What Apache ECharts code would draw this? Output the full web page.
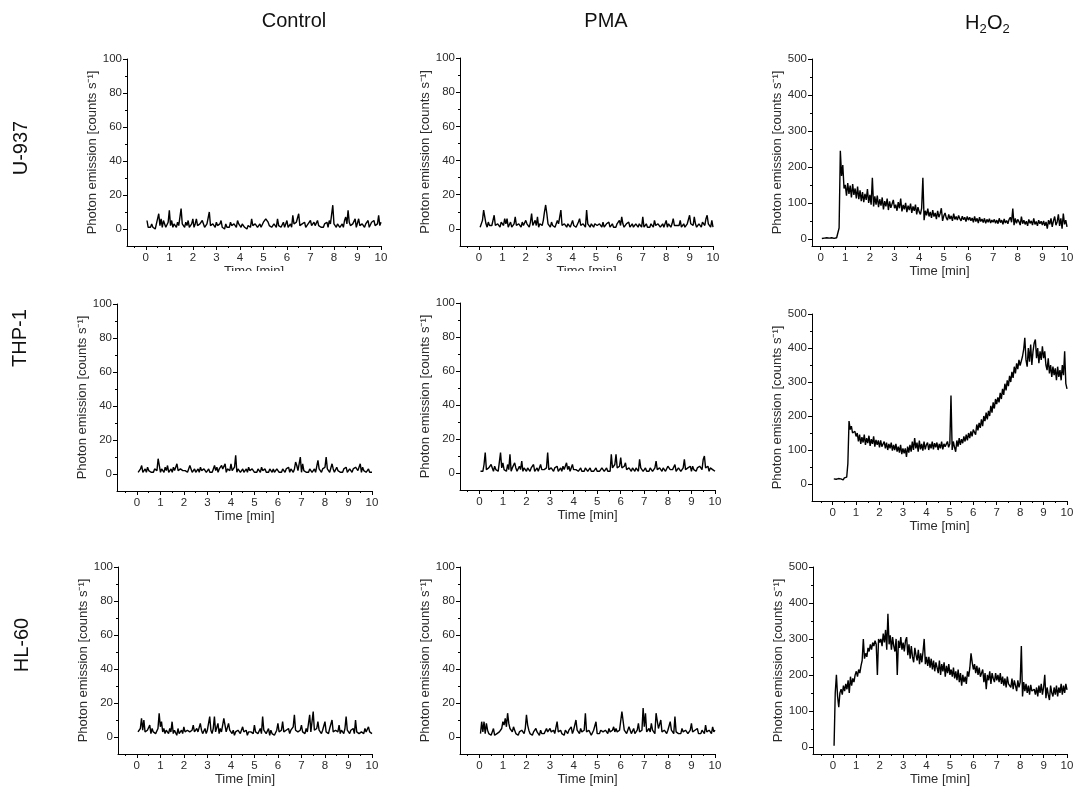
<!DOCTYPE html>
<html><head><meta charset="utf-8">
<script src="https://cdn.jsdelivr.net/npm/echarts@6/dist/echarts.min.js"></script>
<style>html,body{margin:0;padding:0;background:#fff}#c{width:1082px;height:791px}</style>
</head><body><div id="c"></div>
<script>
// ---------- labels ----------
const columnTitles = ['Control', 'PMA', 'H2O2'];
const rowLabels = ['U-937', 'THP-1', 'HL-60'];
const xAxisName = 'Time [min]';
const yAxisName = 'Photon emission [counts s\u207B\u00B9]';
const xTickValues = [0,1,2,3,4,5,6,7,8,9,10];
const xMinorValues = [-0.5,0.5,1.5,2.5,3.5,4.5,5.5,6.5,7.5,8.5,9.5];
const yTicksLow = [0,20,40,60,80,100];
const yMinorLow = [10,30,50,70,90];
const yTicksHigh = [0,100,200,300,400,500];
const yMinorHigh = [50,150,250,350,450];
// sampling: first point at 0.05 min, one point every 0.05 min
const timeStart = 0.05, timeStep = 0.05;

// ---------- data (counts per second) ----------
const u937Control = [
5,1,2,1,3,1,2,0,3,2,9,2,6,1,5,3,1,2,4,11,
2,5,1,3,2,1,4,2,1,12,3,2,1,4,2,5,1,2,3,6,
1,3,6,2,1,3,2,5,4,1,2,3,2,10,2,1,3,2,1,4,
2,1,3,5,1,2,0,3,1,2,1,4,2,1,3,2,1,5,3,2,
1,3,2,1,2,0,2,3,1,6,2,1,3,2,1,2,3,1,2,4,
3,6,7,4,2,3,1,2,3,2,1,6,2,3,1,2,4,1,3,5,
1,2,3,1,8,3,2,4,3,9,2,1,3,2,4,1,2,3,2,5,
2,1,4,2,1,5,2,3,1,2,1,3,2,4,1,5,3,2,14,3,
2,1,3,2,1,2,3,1,5,7,3,11,4,2,1,3,2,6,1,2,
6,2,1,3,2,1,3,2,5,1,2,4,3,5,2,1,3,8,2,4];
const u937PMA = [
1,2,5,11,10,3,1,4,2,1,2,3,8,2,1,3,2,1,4,3,
2,6,3,6,1,2,4,1,2,3,7,2,1,3,2,1,4,2,3,5,
3,2,1,4,9,2,3,5,2,7,1,3,4,2,5,10,14,9,3,2,
1,4,2,3,1,2,5,3,2,11,2,1,3,2,1,3,2,1,2,5,
2,3,1,2,4,6,2,1,3,2,1,11,3,2,1,3,2,1,3,4,
2,1,3,2,1,4,1,2,3,2,4,1,2,3,1,2,1,3,2,5,
2,7,3,1,2,3,2,4,1,2,3,1,2,3,2,1,3,2,1,7,
1,2,3,1,2,1,3,2,1,5,2,1,3,2,1,2,3,1,2,5,
1,3,2,1,3,6,2,1,2,3,2,5,1,2,3,1,2,3,4,8,
3,2,2,7,3,1,2,3,2,1,4,3,2,6,8,3,2,1,5,1];
const u937H2O2 = [
1,3,2,1,3,2,2,1,3,2,1,2,3,2,30,245,175,205,140,150,
120,155,125,148,115,152,122,140,112,145,110,135,105,130,102,125,108,138,100,122,
95,170,90,118,95,120,88,110,92,115,82,105,90,112,80,104,86,82,108,85,
95,78,102,85,112,76,94,82,100,74,92,80,98,72,90,78,95,68,88,75,
68,85,170,52,78,65,84,62,75,58,80,62,72,55,78,60,70,85,50,64,
72,58,52,68,55,64,50,70,54,62,52,65,56,50,63,53,60,48,62,52,
60,50,58,46,62,48,57,44,60,48,55,45,57,43,54,46,56,44,52,46,
54,43,52,42,57,45,52,40,55,44,51,42,54,60,46,84,38,57,43,54,
48,38,62,42,52,40,49,36,54,43,50,38,57,40,48,36,52,42,49,38,
50,36,47,28,52,40,57,33,50,62,38,47,68,36,57,28,70,40,52,33];
const thp1Control = [
1,2,3,5,1,2,3,1,4,2,3,1,2,1,3,2,2,9,10,1,
3,2,1,4,2,5,1,2,3,1,4,2,3,6,2,1,3,4,2,1,
2,3,1,2,5,3,1,2,3,1,2,3,1,4,2,1,3,2,1,2,
3,1,2,1,3,5,2,4,1,3,2,5,3,2,6,1,3,4,2,6,
2,3,4,11,1,3,2,1,2,3,1,2,3,1,4,2,1,3,2,1,
2,1,3,2,1,4,2,1,3,1,2,1,3,2,1,3,1,2,3,4,
1,2,1,3,2,1,3,2,4,1,3,2,1,3,7,5,2,3,10,1,
6,2,3,1,2,1,3,2,1,2,3,1,2,8,3,2,1,3,2,4,
10,3,2,1,2,6,3,1,2,4,2,3,1,2,1,3,2,4,1,2,
3,2,1,3,2,4,5,2,3,6,1,4,2,3,1,2,3,1,2,1];
const thp1PMA = [
1,2,1,5,12,2,1,3,2,5,3,1,4,2,3,1,2,12,3,6,
2,3,1,5,2,11,1,3,2,6,3,1,2,4,2,7,1,3,2,1,
3,2,1,3,2,5,1,2,3,1,2,5,2,3,2,1,3,12,2,1,
3,2,1,3,2,4,1,2,3,1,4,2,3,6,2,4,1,3,5,2,
1,2,3,1,2,3,1,2,1,3,2,1,2,3,1,2,1,2,3,1,
2,1,2,3,4,1,2,3,1,2,1,11,3,2,5,11,3,2,4,9,
3,2,4,6,2,1,3,2,1,3,2,1,3,2,1,8,3,2,1,2,
3,1,2,1,3,2,1,2,3,7,2,1,3,2,1,3,2,1,2,4,
3,2,1,2,3,5,1,2,3,2,1,2,3,8,2,1,3,2,4,1,
4,2,3,1,3,2,4,3,2,8,10,3,2,4,1,3,4,2,3,1];
const thp1H2O2 = [
15,10,14,12,16,11,15,13,12,18,14,20,60,185,160,170,150,145,155,140,
150,125,145,118,138,122,145,115,135,120,142,112,132,118,140,110,130,115,128,108,
128,110,115,125,105,122,100,118,105,122,98,115,100,118,95,110,92,115,88,105,
90,105,80,110,92,115,95,125,100,135,105,122,95,128,102,118,98,125,102,115,
122,100,118,105,125,102,120,108,122,100,118,105,125,102,118,110,105,125,108,118,
260,100,125,108,95,128,110,135,115,132,120,140,125,145,128,150,135,155,140,160,
160,145,175,158,180,165,190,170,200,185,210,190,215,200,230,210,240,222,250,235,
255,240,268,250,280,262,295,275,305,288,318,300,330,312,345,325,355,338,365,348,
350,375,395,430,365,345,400,360,410,350,390,415,425,370,400,355,390,365,405,370,
390,350,335,370,325,350,315,345,320,340,305,345,315,335,305,350,320,390,295,280];
const hl60Control = [
3,2,5,11,4,10,3,2,4,3,7,2,5,3,4,2,3,5,14,6,
9,3,5,2,4,3,2,5,3,9,2,4,3,1,5,2,3,4,2,6,
3,2,4,5,3,2,4,7,3,2,5,3,2,8,4,2,3,5,2,4,
3,12,4,2,5,12,3,4,8,2,5,3,4,11,11,3,2,8,4,3,
2,4,1,3,2,4,3,2,1,6,3,2,4,1,3,2,3,4,2,7,
3,4,2,3,5,2,12,4,3,2,3,5,1,4,2,3,1,2,4,8,
3,2,4,9,3,2,4,3,5,2,4,3,6,13,4,5,3,2,4,7,
3,4,2,5,3,4,13,3,2,15,4,3,5,9,4,3,2,4,3,9,
3,4,2,5,4,10,3,2,4,5,3,7,2,4,3,2,5,12,4,3,
2,4,3,5,2,10,3,4,2,1,3,4,2,5,3,2,6,3,4,2];
const hl60PMA = [
2,9,3,9,2,8,4,2,3,1,2,5,1,0,2,1,3,2,5,9,
7,11,6,14,8,5,4,3,6,4,2,3,1,3,2,4,3,2,5,13,
7,4,2,3,1,3,2,5,3,2,1,4,2,3,2,1,5,3,2,5,
3,2,4,2,1,9,3,2,4,2,3,1,4,5,2,4,3,6,2,4,
3,10,4,3,2,5,3,2,4,14,3,2,4,3,1,2,4,3,9,2,
3,2,4,5,3,2,4,3,2,5,3,2,4,6,3,5,3,2,4,5,
15,14,4,3,2,3,6,4,2,3,5,2,3,4,8,3,2,4,17,6,
14,3,4,5,3,8,4,3,2,14,13,5,4,10,3,2,4,3,2,4,
3,9,4,3,2,12,3,4,2,3,2,5,3,2,4,3,2,3,4,8,
3,2,4,3,5,2,3,2,4,3,2,7,3,2,4,3,2,6,3,4];
const hl60H2O2 = [
3,150,200,140,110,150,160,145,170,155,175,160,185,150,195,170,190,180,200,210,
195,215,205,225,240,300,245,260,250,275,265,285,270,290,280,295,285,200,300,290,
300,280,315,290,325,270,370,285,310,270,305,280,265,300,200,295,275,305,270,290,
265,295,305,255,285,245,280,250,235,275,255,240,270,230,260,235,265,300,230,250,
225,250,220,245,215,240,210,235,220,205,240,200,230,210,235,195,225,205,230,200,
215,195,220,190,210,185,215,180,205,170,200,180,195,175,210,195,220,260,235,215,
230,205,225,200,220,195,190,215,180,205,160,200,185,210,175,205,190,180,205,185,
200,180,205,175,195,170,190,165,195,175,180,165,190,160,185,170,155,185,165,180,
280,140,180,155,175,150,170,145,172,155,160,160,145,165,140,170,150,175,145,165,
200,135,165,145,130,170,150,140,165,145,170,140,165,150,175,145,170,150,175,158];

// axis ranges per panel (row-major)
const panelSeries = [u937Control, u937PMA, u937H2O2, thp1Control, thp1PMA, thp1H2O2, hl60Control, hl60PMA, hl60H2O2];
const panelXMin = [-0.8, -0.81, -0.35, -0.85, -0.82, -0.88, -0.8, -0.82, -0.85];
const panelYMin = [-10, -10, -20, -10, -10, -50, -10, -10, -20];
const panelYMax = [100, 100, 500, 100, 100, 500, 100, 100, 500];

// ---------- layout ----------
const gridBoxes = [
  [127, 59, 254, 187], [460, 58, 253, 188], [812, 59, 255, 187],
  [117, 304, 255, 187], [460, 303, 255, 187], [812, 314, 255, 187],
  [118, 567, 254, 187], [460, 567, 255, 187], [813, 567, 254, 187]
];
const FONT = 'Liberation Sans, Arial, sans-serif';
const labelColor = '#2b2b2b';

const grid = [], xAxis = [], yAxis = [], series = [];
panelSeries.forEach((vals, i) => {
  const b = gridBoxes[i];
  grid.push({left: b[0], top: b[1], width: b[2], height: b[3], containLabel: false});
  const high = panelYMax[i] > 100;
  const yMaj = high ? yTicksHigh : yTicksLow;
  const yMin = high ? yMinorHigh : yMinorLow;
  xAxis.push({
    type: 'value', gridIndex: i, position: 'bottom', min: panelXMin[i], max: 10,
    axisLine: {show: true, onZero: false, lineStyle: {color: '#000', width: 1}},
    axisTick: {show: true, inside: false, length: 4, customValues: xTickValues, lineStyle: {color: '#000', width: 1}},
    axisLabel: {show: true, customValues: xTickValues, margin: 6, fontSize: 11.5, color: labelColor, fontFamily: FONT},
    splitLine: {show: false},
    name: xAxisName, nameLocation: 'middle', nameGap: 18,
    nameTextStyle: {fontSize: 13, color: labelColor, fontFamily: FONT}
  });
  xAxis.push({
    type: 'value', gridIndex: i, position: 'bottom', min: panelXMin[i], max: 10,
    axisLine: {show: false, onZero: false},
    axisTick: {show: true, inside: false, length: 2, customValues: xMinorValues.filter(v => v > panelXMin[i]), lineStyle: {color: '#000', width: 1}},
    axisLabel: {show: false}, splitLine: {show: false}
  });
  yAxis.push({
    type: 'value', gridIndex: i, position: 'left', min: panelYMin[i], max: panelYMax[i],
    axisLine: {show: true, onZero: false, lineStyle: {color: '#000', width: 1}},
    axisTick: {show: true, inside: false, length: 4, customValues: yMaj, lineStyle: {color: '#000', width: 1}},
    axisLabel: {show: true, customValues: yMaj, margin: 5, fontSize: 11.5, color: labelColor, fontFamily: FONT},
    splitLine: {show: false},
    name: yAxisName, nameLocation: 'middle', nameGap: 26,
    nameTextStyle: {fontSize: 13, color: labelColor, fontFamily: FONT}
  });
  yAxis.push({
    type: 'value', gridIndex: i, position: 'left', min: panelYMin[i], max: panelYMax[i],
    axisLine: {show: false, onZero: false},
    axisTick: {show: true, inside: false, length: 2, customValues: yMin, lineStyle: {color: '#000', width: 1}},
    axisLabel: {show: false}, splitLine: {show: false}
  });
  series.push({
    type: 'line', xAxisIndex: 2 * i, yAxisIndex: 2 * i,
    data: vals.map((v, k) => [+(timeStart + k * timeStep).toFixed(2), v]),
    showSymbol: false, symbol: 'none', smooth: false,
    lineStyle: {color: '#000', width: 1.4}, silent: true
  });
});

const titleFont = '20px Liberation Sans, Arial, sans-serif';
const subFont = '13px Liberation Sans, Arial, sans-serif';
function txt(x, y, text, font, align, rot) {
  const o = {type: 'text', x: x, y: y, style: {text: text, font: font, fill: '#111', textAlign: align, textVerticalAlign: 'middle', align: align, verticalAlign: 'middle'}};
  if (rot) o.rotation = rot;
  return o;
}
const graphic = [
  txt(294, 21, columnTitles[0], titleFont, 'center'),
  txt(606, 21, columnTitles[1], titleFont, 'center'),
  txt(965, 23, 'H', titleFont, 'left'),
  txt(979.5, 29, '2', subFont, 'left'),
  txt(987, 23, 'O', titleFont, 'left'),
  txt(1002.5, 29, '2', subFont, 'left'),
  txt(21, 148, rowLabels[0], titleFont, 'center', Math.PI / 2),
  txt(20, 338, rowLabels[1], titleFont, 'center', Math.PI / 2),
  txt(22, 645, rowLabels[2], titleFont, 'center', Math.PI / 2),
  // the reference crops the first-row x-axis titles of Control and PMA
  {type: 'rect', shape: {x: 90, y: 271, width: 650, height: 14}, style: {fill: '#fff'}, z: 100}
];

const chart = echarts.init(document.getElementById('c'), null, {renderer: 'canvas', width: 1082, height: 791});
chart.setOption({
  animation: false,
  backgroundColor: '#fff',
  textStyle: {fontFamily: FONT},
  grid, xAxis, yAxis, series, graphic
});
</script>
</body></html>
